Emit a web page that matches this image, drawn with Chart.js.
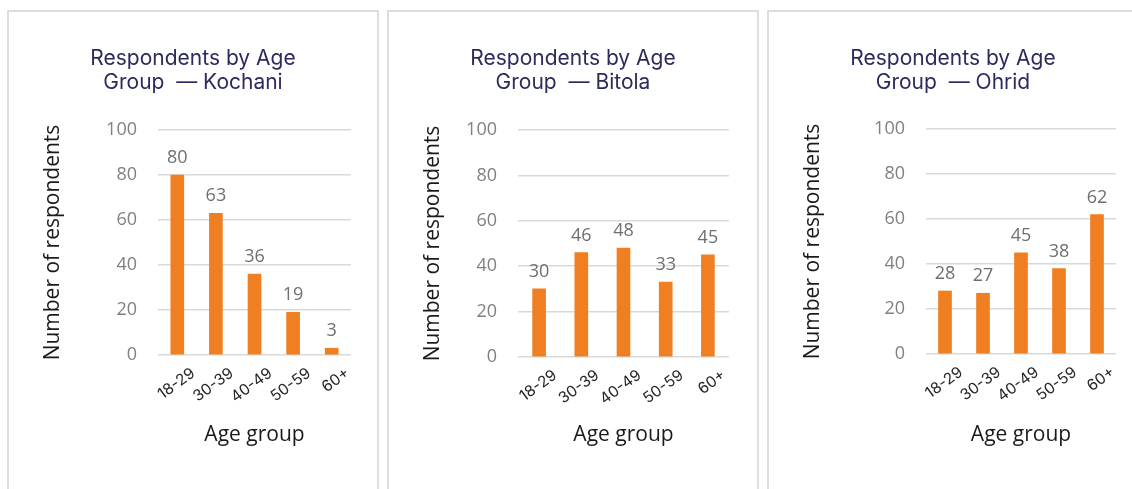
<!DOCTYPE html>
<html>
<head>
<meta charset="utf-8">
<script src="https://cdn.jsdelivr.net/npm/chart.js@4.4.1/dist/chart.umd.min.js"></script>
<style>
  html, body { margin: 0; padding: 0; background: #ffffff; }
  body { width: 1132px; height: 489px; position: relative; overflow: hidden; }
  .panel {
    position: absolute; top: 10px; width: 372px; height: 500px;
    border: 2px solid #dedede; box-sizing: border-box; background: #ffffff;
  }
  .panel canvas { display: block; }
</style>
</head>
<body>
<div class="panel" style="left:7px"><canvas id="c1" width="368" height="496"></canvas></div>
<div class="panel" style="left:387px"><canvas id="c2" width="368" height="496"></canvas></div>
<div class="panel" style="left:767px"><canvas id="c3" width="368" height="496"></canvas></div>
<script>
// Survey data: respondents per age group in each city
const ageGroups = ['18-29', '30-39', '40-49', '50-59', '60+'];
const cities = ['Kochani', 'Bitola', 'Ohrid'];
const kochaniCounts = [80, 63, 36, 19, 3];
const bitolaCounts = [30, 46, 48, 33, 45];
const ohridCounts = [28, 27, 45, 38, 62];
const yTickValues = [0, 20, 40, 60, 80, 100];

const seriesByCity = [kochaniCounts, bitolaCounts, ohridCounts];

// Plot-area geometry for each panel (canvas pixels)
const panelFrames = [
  { left: 149, right: 342, top: 118, bottom: 343 },
  { left: 129, right: 340, top: 118, bottom: 345 },
  { left: 157, right: 347, top: 117, bottom: 342 }
];

const CANVAS_W = 368, CANVAS_H = 496;
const ORANGE = '#f07f22';
const BODY_FONT = "'Open Sans', 'Noto Sans', sans-serif";
const TITLE_FONT = "Inter, 'Noto Sans', sans-serif";
const TITLE_SIZE = 21, TITLE_LINE = 24;

// Writes each bar's value above it
const valueLabels = {
  id: 'valueLabels',
  afterDatasetsDraw(chart) {
    const ctx = chart.ctx;
    ctx.save();
    ctx.font = '18px ' + BODY_FONT;
    ctx.fillStyle = '#6f6f6f';
    ctx.textAlign = 'center';
    ctx.textBaseline = 'alphabetic';
    chart.data.datasets.forEach((ds, di) => {
      chart.getDatasetMeta(di).data.forEach((bar, i) => {
        ctx.fillText(String(ds.data[i]), bar.x, bar.y - 12);
      });
    });
    ctx.restore();
  }
};

function buildChart(canvasId, city, values, frame) {
  const side = CANVAS_W - frame.right;
  const yTitleLine = 21 * 1.2;
  const xTitleBottom = 435.6;
  const titleTop = 34.5;
  return new Chart(document.getElementById(canvasId), {
    type: 'bar',
    data: {
      labels: ageGroups,
      datasets: [{
        label: 'Number of respondents',
        data: values,
        backgroundColor: ORANGE,
        borderWidth: 0,
        barThickness: 13
      }]
    },
    options: {
      responsive: false,
      animation: false,
      devicePixelRatio: 1,
      layout: { padding: { left: side, right: side, top: 0, bottom: CANVAS_H - xTitleBottom } },
      plugins: {
        legend: { display: false },
        tooltip: { enabled: false },
        title: {
          display: true,
          text: ['Respondents by Age', 'Group  \u2014 ' + city],
          color: '#2c2b5e',
          font: { family: TITLE_FONT, size: TITLE_SIZE, weight: 'normal', lineHeight: TITLE_LINE / TITLE_SIZE },
          padding: { top: titleTop, bottom: frame.top - titleTop - 2 * TITLE_LINE }
        }
      },
      scales: {
        x: {
          grid: { display: false, drawTicks: false },
          border: { display: false },
          ticks: {
            color: '#262626',
            font: { family: TITLE_FONT, size: 15.5 },
            minRotation: 36,
            maxRotation: 36,
            autoSkip: false,
            padding: 9,
            labelOffset: 16
          },
          title: {
            display: true,
            text: 'Age group',
            color: '#1a1a1a',
            font: { family: BODY_FONT, size: 21, lineHeight: 1.2 },
            padding: { top: 0, bottom: 0 }
          },
          afterFit(scale) { scale.height = xTitleBottom - frame.bottom; }
        },
        y: {
          min: 0,
          max: 100,
          afterBuildTicks(scale) { scale.ticks = yTickValues.map(v => ({ value: v })); },
          grid: { color: '#d9d9d9', lineWidth: 1.6, drawTicks: false },
          border: { display: false },
          ticks: {
            color: '#808080',
            font: { family: BODY_FONT, size: 18 },
            padding: 21
          },
          title: {
            display: true,
            text: 'Number of respondents',
            color: '#1a1a1a',
            font: { family: BODY_FONT, size: 21, lineHeight: 1.2 },
            padding: { top: 44 - side - yTitleLine / 2, bottom: 0 }
          },
          afterFit(scale) { scale.width = frame.left - side; }
        }
      }
    },
    plugins: [valueLabels]
  });
}

cities.forEach((city, i) => {
  buildChart('c' + (i + 1), city, seriesByCity[i], panelFrames[i]);
});
</script>
</body>
</html>
